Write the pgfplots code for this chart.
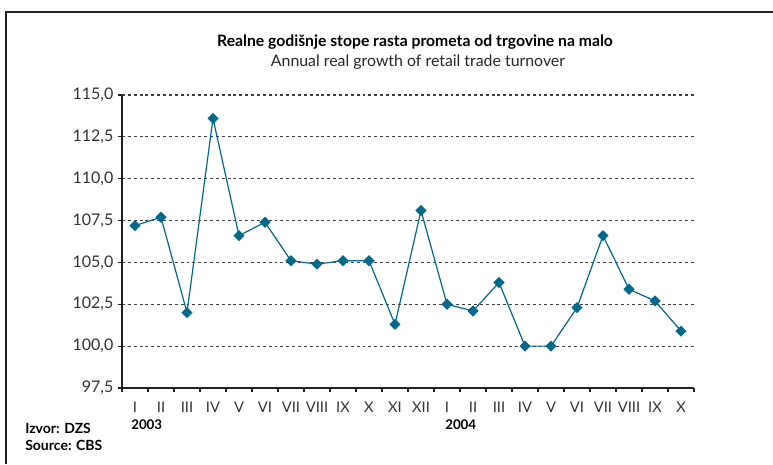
\documentclass[border=0pt]{standalone}
\usepackage{fontspec}
\setmainfont{Lato}
\usepackage{pgfplots}
\pgfplotsset{compat=1.18}
\definecolor{linecol}{RGB}{0,104,139}
\definecolor{axcol}{RGB}{35,31,32}
\begin{document}
\begin{tikzpicture}
\begin{scope}[x=0.75pt,y=0.75pt]
\useasboundingbox (0,0) rectangle (773,464);
\draw[line width=2pt, axcol] (6,0) -- (6,452) -- (773,452);
\node[font=\bfseries\fontsize{11.8}{13}\selectfont, anchor=base] at (415,417) {Realne godišnje stope rasta prometa od trgovine na malo};
\node[font=\fontsize{11.9}{14}\selectfont, anchor=base, text=black!85] at (418,397) {Annual real growth of retail trade turnover};
\node[font=\bfseries\fontsize{10}{12}\selectfont, anchor=base west, inner sep=0pt] at (131,35) {2003};
\node[font=\bfseries\fontsize{10}{12}\selectfont, anchor=base west, inner sep=0pt] at (445,35) {2004};
\node[font=\bfseries\fontsize{10.5}{12}\selectfont, anchor=base west, inner sep=0pt] at (25,31) {Izvor: DZS};
\node[font=\bfseries\fontsize{10.5}{12}\selectfont, anchor=base west, inner sep=0pt] at (25,14) {Source: CBS};
\end{scope}
\begin{axis}[at={(91.5pt,57pt)}, anchor=south west, scale only axis,
  width=429pt, height=219.75pt,
  xmin=-0.5, xmax=21.5, ymin=97.5, ymax=115,
  axis x line*=bottom, axis y line*=left,
  axis line style={-, line width=2.2pt, axcol},
  xtick={0,...,21},
  xticklabels={I,II,III,IV,V,VI,VII,VIII,IX,X,XI,XII,I,II,III,IV,V,VI,VII,VIII,IX,X},
  minor xtick={-0.5,0.5,...,21.5},
  major x tick style={draw=none},
  minor x tick style={axcol, line width=0.8pt},
  ytick={97.5,100,...,115},
  y tick style={axcol, line width=0.8pt},
  tick align=outside, major tick length=3pt, minor tick length=3pt,
  ymajorgrids, grid style={dash pattern=on 2.2pt off 2.2pt, line width=0.9pt, black!75},
  /pgf/number format/assume math mode=true,
  yticklabel style={font=\fontsize{12}{14}\selectfont, text=black!80, /pgf/number format/.cd, fixed, fixed zerofill, precision=1, use comma},
  xticklabel style={font=\fontsize{11}{13}\selectfont, text=black!80, yshift=-4pt},
  clip=false,
]
\addplot[linecol, line width=0.9pt, mark=square*, mark size=2.5pt, mark options={rotate=45, fill=linecol, draw=linecol, solid}] coordinates {
(0,107.2) (1,107.7) (2,102.0) (3,113.6) (4,106.6) (5,107.4) (6,105.1) (7,104.9) (8,105.1) (9,105.1) (10,101.3) (11,108.1)
(12,102.5) (13,102.1) (14,103.8) (15,100.0) (16,100.0) (17,102.3) (18,106.6) (19,103.4) (20,102.7) (21,100.9)
};
\end{axis}
\end{tikzpicture}
\end{document}
